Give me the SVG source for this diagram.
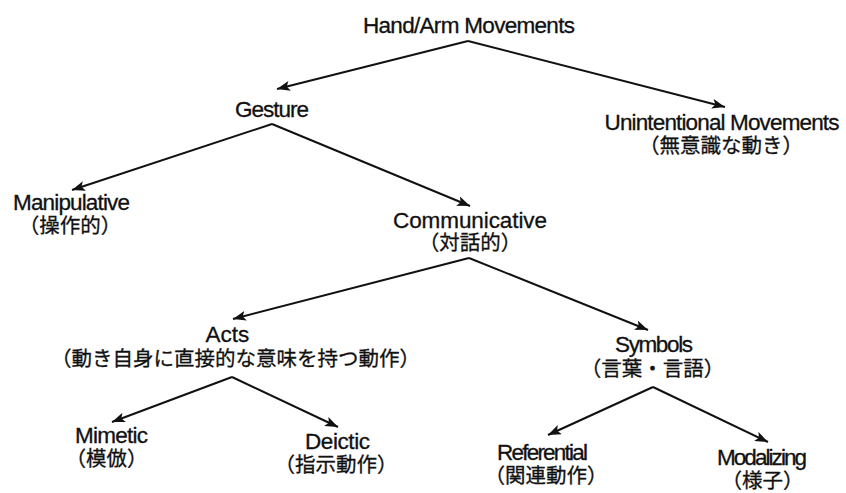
<svg xmlns="http://www.w3.org/2000/svg" width="846" height="493" viewBox="0 0 846 493">
<style>
  .en { font-family: "Liberation Sans", Arial, sans-serif; font-size: 22.5px; fill: #111; stroke: #111; stroke-width: 0.3; text-anchor: middle; }
  .jp { font-family: "Liberation Sans", "Noto Sans CJK JP", sans-serif; font-size: 20.5px; fill: #111; stroke: #111; stroke-width: 0.3; text-anchor: middle; }
  .edge { stroke: #111; stroke-width: 2; fill: none; marker-end: url(#arrow); }
</style>
<defs>
  <marker id="arrow" markerUnits="userSpaceOnUse" markerWidth="14" markerHeight="10" refX="13" refY="5" orient="auto">
    <path d="M0,0 L13,5 L0,10 L3,5 z" fill="#111"/>
  </marker>
</defs>
<rect width="846" height="493" fill="#fff"/>
<g id="connectors">
  <line class="edge" x1="468" y1="41" x2="277" y2="89"/>
  <line class="edge" x1="468" y1="41" x2="725" y2="107"/>
  <line class="edge" x1="272" y1="124" x2="72" y2="190"/>
  <line class="edge" x1="272" y1="124" x2="470" y2="206"/>
  <line class="edge" x1="469" y1="258" x2="233" y2="319"/>
  <line class="edge" x1="469" y1="258" x2="648" y2="330"/>
  <line class="edge" x1="232" y1="377" x2="112" y2="422"/>
  <line class="edge" x1="232" y1="377" x2="338" y2="427"/>
  <line class="edge" x1="653" y1="387" x2="548" y2="435"/>
  <line class="edge" x1="653" y1="387" x2="768" y2="442"/>
</g>
<g id="root"><text class="en" x="469" y="33" textLength="212">Hand/Arm Movements</text></g>
<g id="gesture"><text class="en" x="272" y="117" textLength="74">Gesture</text></g>
<g id="unintentional">
  <text class="en" x="722" y="130" textLength="235">Unintentional Movements</text>
  <text class="jp" x="721" y="153">（無意識な動き）</text>
</g>
<g id="manipulative">
  <text class="en" x="71.5" y="210" textLength="117">Manipulative</text>
  <text class="jp" x="70" y="233">（操作的）</text>
</g>
<g id="communicative">
  <text class="en" x="470" y="228" textLength="154">Communicative</text>
  <text class="jp" x="470" y="250">（対話的）</text>
</g>
<g id="acts">
  <text class="en" x="227.5" y="342">Acts</text>
  <text class="jp" x="235.5" y="366">（動き自身に直接的な意味を持つ動作）</text>
</g>
<g id="symbols">
  <text class="en" x="654" y="352" textLength="78">Symbols</text>
  <text class="jp" x="652.5" y="376">（言葉・言語）</text>
</g>
<g id="mimetic">
  <text class="en" x="111.5" y="443" textLength="73">Mimetic</text>
  <text class="jp" x="106.5" y="466">（模倣）</text>
</g>
<g id="deictic">
  <text class="en" x="337.5" y="449" textLength="65">Deictic</text>
  <text class="jp" x="336" y="472">（指示動作）</text>
</g>
<g id="referential">
  <text class="en" x="542.5" y="460" textLength="91">Referential</text>
  <text class="jp" x="546" y="483">（関連動作）</text>
</g>
<g id="modalizing">
  <text class="en" x="762" y="465" textLength="90">Modalizing</text>
  <text class="jp" x="762.5" y="488">（様子）</text>
</g>
</svg>
